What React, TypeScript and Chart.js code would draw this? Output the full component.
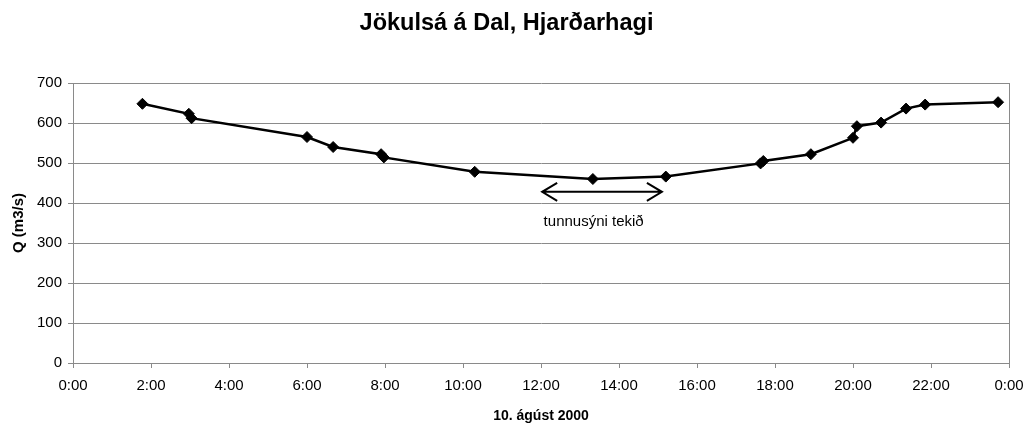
import React, { useEffect, useRef } from "react";
import { Chart, registerables } from "chart.js";

Chart.register(...registerables);

// Measurement times (decimal hours, 10 August 2000) and discharge Q (m3/s)
const times = [1.78, 2.97, 3.04, 6.0, 6.67, 7.9, 7.97, 10.3, 13.33, 15.2, 17.63, 17.7, 18.92, 20.0, 20.1, 20.72, 21.36, 21.85, 23.72];
const flows = [648, 623, 612, 565, 540, 522, 514, 478, 460, 466, 499, 505, 522, 563, 592, 601, 636, 646, 652];

const xTicks = [0, 2, 4, 6, 8, 10, 12, 14, 16, 18, 20, 22, 24];
const xTickLabels = ["0:00", "2:00", "4:00", "6:00", "8:00", "10:00", "12:00", "14:00", "16:00", "18:00", "20:00", "22:00", "0:00"];

const titleText = "Jökulsá á Dal, Hjarðarhagi";
const yTitle = "Q (m3/s)";
const xTitle = "10. ágúst 2000";
const noteText = "tunnusýni tekið";

// annotation anchor, in data units
const arrowFrom = 12.03;
const arrowTo = 15.1;
const arrowLevel = 428;
const noteTime = 13.35;
const noteLevel = 352;

const FONT = "'Liberation Sans', Arial, Helvetica, sans-serif";

const frameAndNote = {
  id: "frameAndNote",
  afterDatasetsDraw(chart: any) {
    const { ctx, chartArea, scales } = chart;
    const x = scales.x;
    const y = scales.y;
    ctx.save();
    // right border of plot area
    ctx.strokeStyle = "#8a8a8a";
    ctx.lineWidth = 1;
    ctx.beginPath();
    ctx.moveTo(Math.round(chartArea.right) + 0.5, chartArea.top);
    ctx.lineTo(Math.round(chartArea.right) + 0.5, chartArea.bottom);
    ctx.stroke();

    // double arrow
    const x1 = x.getPixelForValue(arrowFrom);
    const x2 = x.getPixelForValue(arrowTo);
    const ay = y.getPixelForValue(arrowLevel);
    ctx.strokeStyle = "#000";
    ctx.lineWidth = 2;
    ctx.beginPath();
    ctx.moveTo(x1, ay);
    ctx.lineTo(x2, ay);
    ctx.moveTo(x1 + 15, ay - 9);
    ctx.lineTo(x1, ay);
    ctx.lineTo(x1 + 15, ay + 9);
    ctx.moveTo(x2 - 15, ay - 9);
    ctx.lineTo(x2, ay);
    ctx.lineTo(x2 - 15, ay + 9);
    ctx.stroke();

    ctx.fillStyle = "#000";
    ctx.font = `15px ${FONT}`;
    ctx.textAlign = "center";
    ctx.textBaseline = "middle";
    ctx.fillText(noteText, x.getPixelForValue(noteTime), y.getPixelForValue(noteLevel));
    ctx.restore();
  },
};

export default function App() {
  const ref = useRef<HTMLCanvasElement | null>(null);
  useEffect(() => {
    if (!ref.current) return;
    const chart = new Chart(ref.current, {
      type: "line",
      data: {
        datasets: [
          {
            data: times.map((t, i) => ({ x: t, y: flows[i] })),
            borderColor: "#000",
            backgroundColor: "#000",
            borderWidth: 2.5,
            pointStyle: "rectRot",
            pointRadius: 5.5,
            pointBorderWidth: 1,
            pointBackgroundColor: "#000",
            pointBorderColor: "#000",
            tension: 0,
          },
        ],
      },
      options: {
        responsive: false,
        animation: false,
        devicePixelRatio: 1,
        layout: { padding: { left: 4, right: 19, top: 0, bottom: 0 } },
        plugins: {
          legend: { display: false },
          tooltip: { enabled: false },
          title: {
            display: true,
            text: titleText,
            color: "#000",
            font: { family: FONT, size: 23.5, weight: "bold", lineHeight: 1.2 },
            padding: { top: 9.5, bottom: 45.3 },
          },
        },
        scales: {
          x: {
            type: "linear",
            min: 0,
            max: 24,
            afterBuildTicks: (s: any) => {
              s.ticks = xTicks.map((v) => ({ value: v }));
            },
            afterFit: (s: any) => {
              s.height = 63;
              s.paddingLeft = 0;
              s.paddingRight = 0;
            },
            ticks: {
              color: "#000",
              font: { family: FONT, size: 15 },
              padding: 9,
              maxRotation: 0,
              autoSkip: false,
              callback: (_v: any, i: number) => xTickLabels[i],
            },
            grid: { drawOnChartArea: false, drawTicks: true, tickLength: 5, color: "#8a8a8a" },
            border: { display: true, color: "#8a8a8a", width: 1 },
            title: {
              display: true,
              text: xTitle,
              color: "#000",
              font: { family: FONT, size: 14, weight: "bold", lineHeight: 1.2 },
              padding: { top: 0, bottom: 1 },
            },
          },
          y: {
            min: 0,
            max: 700,
            ticks: {
              stepSize: 100,
              color: "#000",
              font: { family: FONT, size: 15 },
              padding: 6,
            },
            afterFit: (s: any) => {
              s.width = 69;
            },
            grid: { color: "#8a8a8a", lineWidth: 1, tickLength: 5, drawTicks: true },
            border: { display: true, color: "#8a8a8a", width: 1 },
            title: {
              display: true,
              text: yTitle,
              color: "#000",
              font: { family: FONT, size: 15, weight: "bold", lineHeight: 1.2 },
              padding: { top: 6, bottom: 0 },
            },
          },
        },
      },
      plugins: [frameAndNote],
    } as any);
    return () => chart.destroy();
  }, []);

  return (
    <div style={{ position: "absolute", left: 0, top: 0, width: 1028, height: 426, background: "#fff" }}>
      <canvas ref={ref} width={1028} height={426} style={{ display: "block" }} />
    </div>
  );
}
